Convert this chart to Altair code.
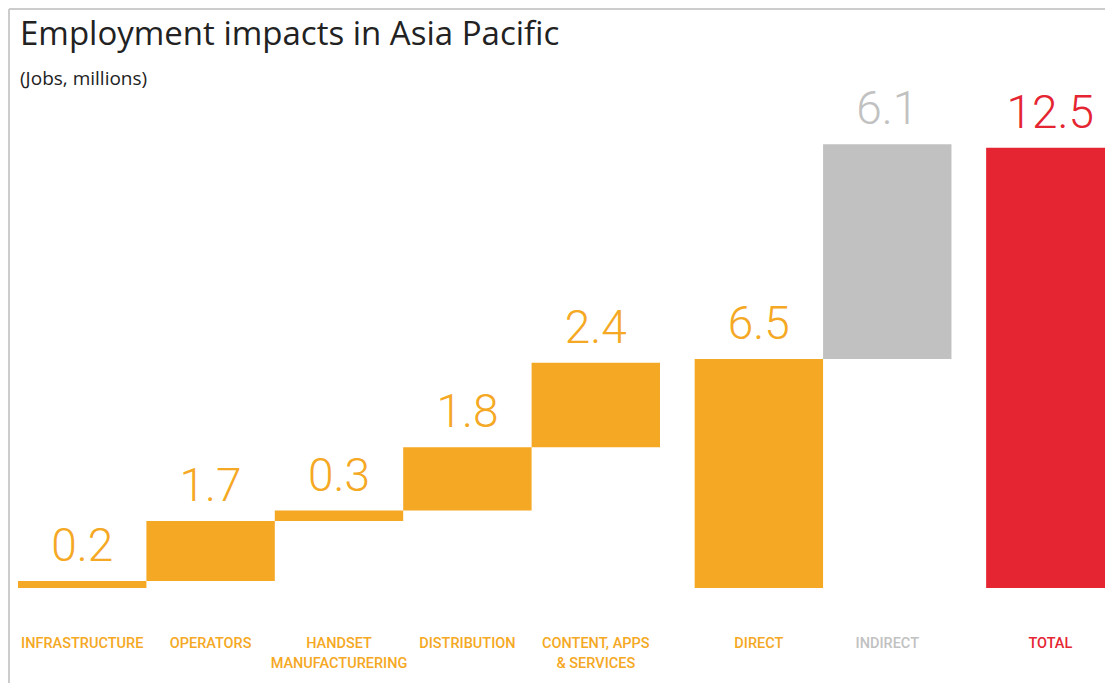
import altair as alt
import pandas as pd

categories = ["INFRASTRUCTURE", "OPERATORS", "HANDSET\nMANUFACTURERING", "DISTRIBUTION",
              "CONTENT, APPS\n& SERVICES", "DIRECT", "INDIRECT", "TOTAL"]
values = [0.2, 1.7, 0.3, 1.8, 2.4, 6.5, 6.1, 12.5]
bases = [0.0, 0.2, 1.9, 2.2, 4.0, 0.0, 6.5, 0.0]
labels = ["0.2", "1.7", "0.3", "1.8", "2.4", "6.5", "6.1", "12.5"]
groups = ["direct", "direct", "direct", "direct", "direct", "direct", "indirect", "total"]
gap_before = [0, 0, 0, 0, 0, 1, 0, 1]

GAP = 0.27
slots = []
acc = 0.0
for i, g in enumerate(gap_before):
    acc += g * GAP
    slots.append(i + acc)

df = pd.DataFrame({
    "cat": categories,
    "start": bases,
    "end": [b + v for b, v in zip(bases, values)],
    "label": labels,
    "group": groups,
    "x0": slots,
    "x1": [s + 1 for s in slots],
    "xm": [s + 0.5 for s in slots],
    "zero": [0.0] * len(values),
})

W, H = 1087, 493

color = alt.Color("group:N", legend=None,
                  scale=alt.Scale(domain=["direct", "indirect", "total"],
                                  range=["#F5A823", "#C1C1C1", "#E52532"]))
text_color = alt.Color("group:N", legend=None,
                       scale=alt.Scale(domain=["direct", "indirect", "total"],
                                       range=["#F7AA3A", "#C4C7CC", "#E2213A"]))

xs = alt.Scale(domain=[0, W / 128.4], nice=False, zero=False)
ys = alt.Scale(domain=[0, 14], nice=False)

base = alt.Chart(df)
bars = base.mark_rect().encode(
    x=alt.X("x0:Q", scale=xs, axis=None),
    x2="x1:Q",
    y=alt.Y("start:Q", scale=ys, axis=None),
    y2="end:Q",
    color=color,
)
vals = base.mark_text(baseline="bottom", dy=-10, font="Roboto",
                      fontSize=46, fontWeight=300).encode(
    x=alt.X("xm:Q", scale=xs),
    y=alt.Y("end:Q", scale=ys),
    text="label:N",
    color=text_color,
)
cats = base.mark_text(baseline="top", dy=49, font="Roboto",
                      fontSize=14.5, fontWeight=500, lineBreak="\n",
                      lineHeight=20).encode(
    x=alt.X("xm:Q", scale=xs),
    y=alt.Y("zero:Q", scale=ys),
    text="cat:N",
    color=text_color,
)
frame_top = alt.Chart(df).mark_rule(color="#CCCCCC", strokeWidth=2).encode(
    x=alt.value(-9), x2=alt.value(W + 20), y=alt.value(-86)
)
frame_left = alt.Chart(df).mark_rule(color="#CCCCCC", strokeWidth=2).encode(
    x=alt.value(-9), y=alt.value(-86), y2=alt.value(H + 100)
)

chart = alt.layer(frame_top, frame_left, bars, vals, cats).properties(
    width=W, height=H,
    autosize=alt.AutoSizeParams(type="none"),
    padding={"left": 10, "top": 87, "right": 0, "bottom": 95},
    title=alt.TitleParams(
        "Employment impacts in Asia Pacific",
        subtitle="(Jobs, millions)",
        anchor="start", frame="group", font="Open Sans", fontSize=33,
        fontWeight="normal", color="#222222",
        subtitleFont="Open Sans", subtitleFontSize=19, subtitleColor="#222222",
        subtitlePadding=18, offset=1, dx=2, dy=82,
    ),
).configure_view(stroke=None)

chart.save("out.html", embed_options={"renderer": "svg", "actions": False})
